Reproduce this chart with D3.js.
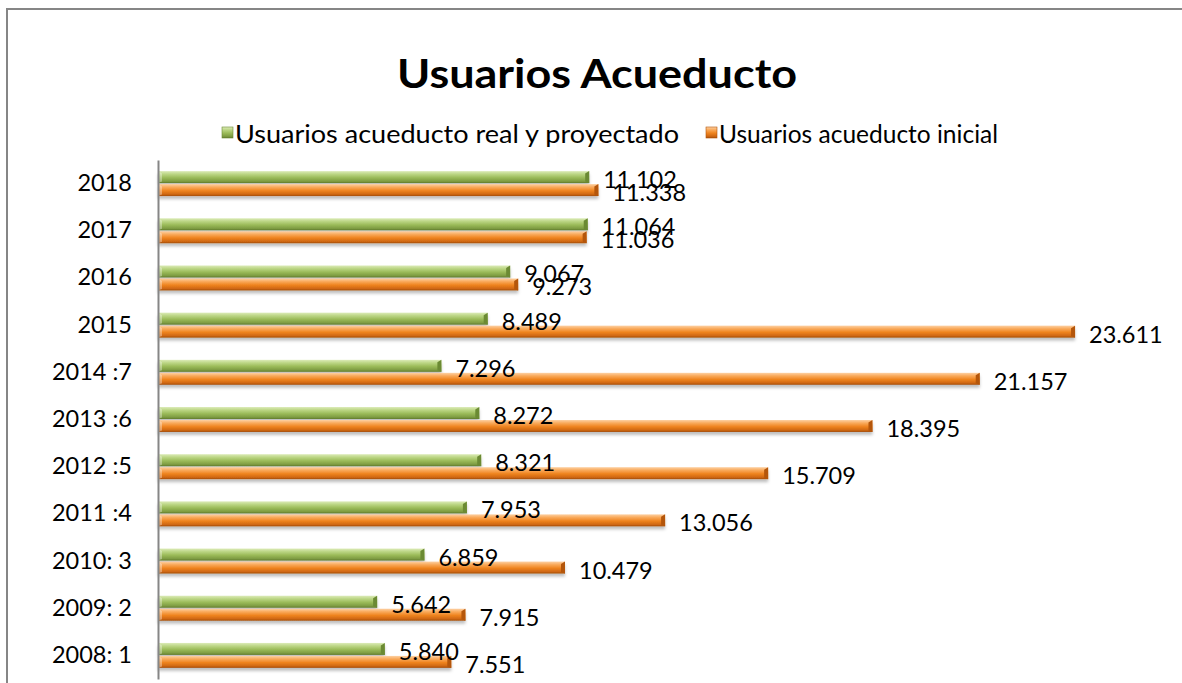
<html>
<head>
<title>Usuarios Acueducto</title>
<script src="https://d3js.org/d3.v7.min.js"></script>
<style>
body { margin: 0; background: #fff; overflow: hidden; }
text { font-family: Lato, "Open Sans", sans-serif; fill: #000; }
</style>
</head>
<body>
<script type="text/javascript">

// data, top to bottom as in the chart
var years = ["2018", "2017", "2016", "2015", "2014 :7", "2013 :6", "2012 :5",
             "2011 :4", "2010: 3", "2009: 2", "2008: 1"];
var realProyectado = [11102, 11064, 9067, 8489, 7296, 8272, 8321, 7953, 6859, 5642, 5840];
var inicial = [11338, 11036, 9273, 23611, 21157, 18395, 15709, 13056, 10479, 7915, 7551];
var seriesNames = ["Usuarios acueducto real y proyectado", "Usuarios acueducto inicial"];

var width = 1182, height = 683;
var margin = {top: 160, right: 53, bottom: 4, left: 158};

var fmt = d3.formatLocale({decimal: ",", thousands: ".", grouping: [3], currency: ["$", ""]}).format(",d");

var svg = d3.select("body").append("svg")
    .attr("width", width)
    .attr("height", height)
    .style("display", "block");

var defs = svg.append("defs");
function grad(id, stops) {
  var g = defs.append("linearGradient").attr("id", id)
      .attr("x1", 0).attr("y1", 0).attr("x2", 0).attr("y2", 1);
  stops.forEach(function(s) {
    g.append("stop").attr("offset", s[0]).attr("stop-color", s[1]);
  });
}
grad("gGreen", [["0%", "#dcebb8"], ["25%", "#bcd685"], ["55%", "#9bbb59"], ["85%", "#7e9c42"], ["100%", "#5f7a2c"]]);
grad("gOrange", [["0%", "#fdd1a4"], ["25%", "#f9aa5c"], ["55%", "#ef841f"], ["85%", "#cf6712"], ["100%", "#a24d08"]]);
var shadow = defs.append("filter").attr("id", "shadow")
    .attr("x", "-5%").attr("y", "-50%").attr("width", "110%").attr("height", "250%");
shadow.append("feDropShadow").attr("dx", 0).attr("dy", 3).attr("stdDeviation", 1.5)
    .attr("flood-color", "#000").attr("flood-opacity", 0.25);

// chart border (right and bottom edges fall outside the picture)
svg.append("rect")
    .attr("x", 7).attr("y", 9)
    .attr("width", width + 100).attr("height", height + 100)
    .attr("fill", "#fff")
    .attr("stroke", "#868686")
    .attr("stroke-width", 2);

// title
svg.append("text")
    .attr("x", 597).attr("y", 88)
    .attr("text-anchor", "middle")
    .attr("textLength", 400)
    .attr("lengthAdjust", "spacingAndGlyphs")
    .style("font-size", "41px")
    .style("font-weight", "bold")
    .text("Usuarios Acueducto");

var x = d3.scaleLinear()
    .domain([0, 25000])
    .range([margin.left, margin.left + 25 * 38.84]);

var y0 = d3.scaleBand()
    .domain(years)
    .range([160, 679])
    .paddingInner(0.45)
    .paddingOuter(0.225);

var y1 = d3.scaleBand()
    .domain([0, 1])
    .range([0, y0.bandwidth()]);

var series = [
  {name: seriesNames[0], values: realProyectado, fill: "url(#gGreen)", cap: "#6b8a33"},
  {name: seriesNames[1], values: inicial, fill: "url(#gOrange)", cap: "#b4560b"}
];

// legend
var legend = svg.append("g");
var legendX = [222, 706];
var legendW = [444, 279];
series.forEach(function(s, i) {
  var lg = legend.append("g").attr("transform", "translate(" + legendX[i] + ",127)");
  lg.append("rect").attr("width", 11).attr("height", 11)
    .attr("fill", s.fill).attr("stroke", s.cap).attr("stroke-width", 0.6);
  lg.append("text").attr("x", 13).attr("y", 6)
    .attr("dominant-baseline", "central")
    .attr("textLength", legendW[i])
    .attr("lengthAdjust", "spacingAndGlyphs")
    .style("font-size", "25px")
    .text(s.name);
});

var h = y1.bandwidth();
var barLayer = svg.append("g");
var labelLayer = svg.append("g");

// bars
series.forEach(function(s, i) {
  var rows = years.map(function(c, j) { return {cat: c, v: s.values[j]}; });
  var bars = barLayer.selectAll("g.bar" + i)
    .data(rows)
    .enter().append("g")
    .attr("class", "bar" + i)
    .attr("transform", function(d) { return "translate(0," + (y0(d.cat) + y1(i)) + ")"; });

  bars.append("rect")
    .attr("x", x(0))
    .attr("y", 0.5)
    .attr("width", function(d) { return x(d.v) - x(0); })
    .attr("height", h - 1)
    .attr("fill", s.fill)
    .attr("filter", "url(#shadow)");

  // bevelled end cap
  bars.append("path")
    .attr("d", function(d) {
      var e = x(d.v);
      return "M" + (e - 4) + "," + 3 + "L" + e + "," + 0.5 + "L" + e + "," + (h - 0.5) +
             "L" + (e - 4) + "," + (h - 2) + "Z";
    })
    .attr("fill", s.cap);

  // left bevel
  bars.append("path")
    .attr("d", function() {
      var b = x(0);
      return "M" + b + "," + 0.5 + "L" + (b + 4) + "," + 3 + "L" + (b + 4) + "," + (h - 2) +
             "L" + b + "," + (h - 0.5) + "Z";
    })
    .attr("fill", "#fff").attr("opacity", 0.35);

  // value labels go on top of all bars
  labelLayer.selectAll("text.v" + i)
    .data(rows)
    .enter().append("text")
    .attr("class", "v" + i)
    .attr("x", function(d) { return x(d.v) + 14; })
    .attr("y", function(d) { return y0(d.cat) + y1(i) + h / 2 + 2; })
    .attr("dominant-baseline", "central")
    .style("font-size", "23.5px")
    .text(function(d) { return fmt(d.v); });
});

// category axis
var yAxis = svg.append("g")
    .attr("transform", "translate(" + margin.left + ",0)")
    .call(d3.axisLeft(y0).tickSize(0).tickPadding(26));
yAxis.select(".domain").attr("stroke", "#868686").attr("stroke-width", 2);
yAxis.selectAll("text")
    .style("font-size", "23.5px")
    .style("font-family", "Lato, 'Open Sans', sans-serif");

</script>
</body>
</html>
